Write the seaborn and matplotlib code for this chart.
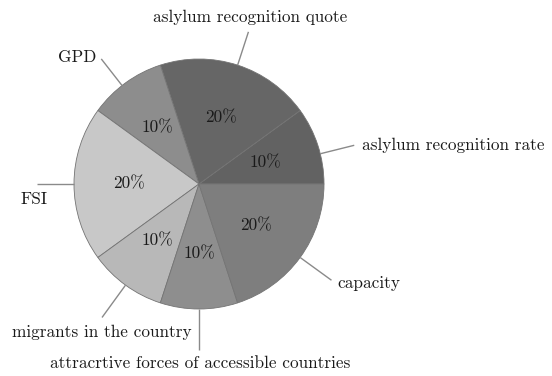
import numpy as np
import matplotlib
matplotlib.use("Agg")
import matplotlib.pyplot as plt
import seaborn as sns

labels = ["aslylum recognition rate", "aslylum recognition quote", "GPD", "FSI",
          "migrants in the country", "attracrtive forces of accessible countries", "capacity"]
shares = [10, 20, 10, 20, 10, 10, 20]
colors = ["#626262", "#666666", "#8d8d8d", "#c8c8c8", "#b8b8b8", "#8e8e8e", "#7e7e7e"]

sns.set_theme(style="white")
plt.rcParams["font.family"] = ["cmr10", "DejaVu Serif"]
plt.rcParams["axes.formatter.use_mathtext"] = True

W, H = 552, 376
fig = plt.figure(figsize=(W / 100, H / 100), dpi=100)
ax = fig.add_axes([0, 0, 1, 1])

cx, cy, R = 199, H - 184, 125
wedges, texts, autotexts = ax.pie(
    shares, colors=colors, startangle=0, counterclock=True,
    center=(cx, cy), radius=R, autopct="%d%%", pctdistance=0.56,
    wedgeprops=dict(edgecolor="#747474", linewidth=0.6),
    textprops=dict(fontsize=12.5, color="#1a1a1a"),
)

# label layout: (angle tweak deg, line end factor, text dx, dy (px, down positive), ha)
layout = [
    (-4, 1.28, 8, 0, "left"),
    (0, 1.28, 2, -14, "center"),
    (2, 1.27, -5, -2, "right"),
    (0, 1.30, -2, 15, "center"),
    (0, 1.32, 0, 15, "center"),
    (0, 1.33, 1, 13, "center"),
    (0, 1.31, 6, 3, "left"),
]
for w, lab, (da, f, tdx, tdy, ha) in zip(wedges, labels, layout):
    ang = np.deg2rad((w.theta1 + w.theta2) / 2 + da)
    x0, y0 = cx + R * np.cos(ang), cy + R * np.sin(ang)
    x1, y1 = cx + f * R * np.cos(ang), cy + f * R * np.sin(ang)
    ax.plot([x0, x1], [y0, y1], color="#8a8a8a", lw=1.0, solid_capstyle="butt")
    ax.text(x1 + tdx, y1 - tdy, lab, ha=ha, va="center", fontsize=12.4, color="#1a1a1a")

ax.set_xlim(0, W)
ax.set_ylim(0, H)
ax.set_aspect("equal")
ax.axis("off")
fig.savefig("out.png", dpi=100, facecolor="white")
